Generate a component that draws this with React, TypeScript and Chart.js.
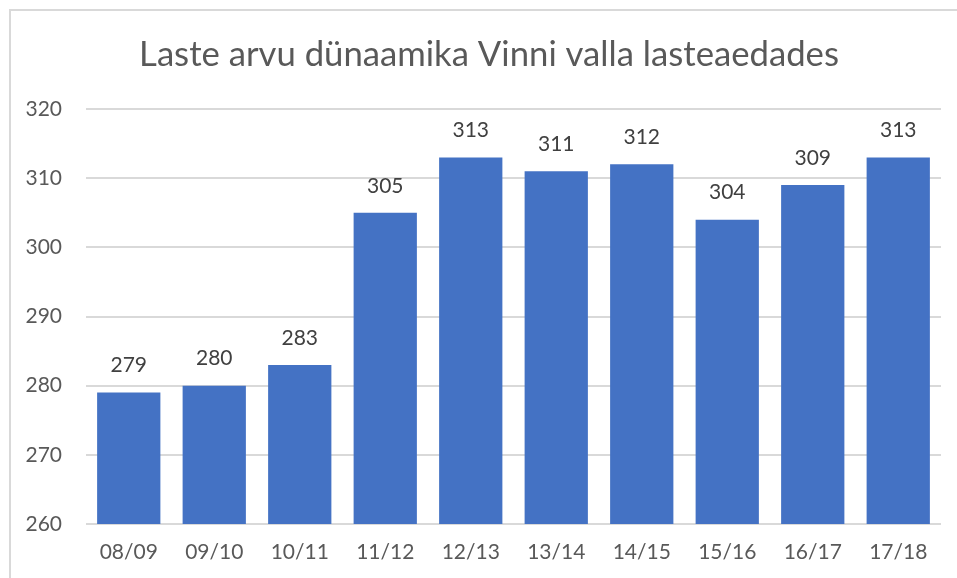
import React, { useEffect, useRef } from "react";
import { Chart, registerables } from "chart.js";

Chart.register(...registerables);

const categories = ["08/09", "09/10", "10/11", "11/12", "12/13", "13/14", "14/15", "15/16", "16/17", "17/18"];
const values = [279, 280, 283, 305, 313, 311, 312, 304, 309, 313];
const titleText = "Laste arvu dünaamika Vinni valla lasteaedades";
const yMin = 260;
const yMax = 320;
const yStep = 10;

const FONT = "Lato, 'Open Sans', sans-serif";

const framePlugin = {
  id: "frame",
  beforeDraw(chart: any) {
    const ctx = chart.ctx;
    ctx.save();
    ctx.fillStyle = "#ffffff";
    ctx.fillRect(0, 0, chart.width, chart.height);
    ctx.strokeStyle = "#d9d9d9";
    ctx.lineWidth = 2;
    ctx.strokeRect(10, 10, chart.width + 20, chart.height + 20);
    ctx.restore();
  },
  afterDraw(chart: any) {
    const ctx = chart.ctx;
    ctx.save();
    ctx.font = `34.7px ${FONT}`;
    ctx.fillStyle = "#595959";
    ctx.textAlign = "center";
    ctx.textBaseline = "middle";
    ctx.fillText(titleText, 489, 55);
    ctx.restore();
  },
};

const labelPlugin = {
  id: "barLabels",
  afterDatasetsDraw(chart: any) {
    const ctx = chart.ctx;
    const meta = chart.getDatasetMeta(0);
    ctx.save();
    ctx.font = `21px ${FONT}`;
    ctx.fillStyle = "#404040";
    ctx.textAlign = "center";
    ctx.textBaseline = "middle";
    meta.data.forEach((bar: any, i: number) => {
      ctx.fillText(String(values[i]), bar.x, bar.y - 27);
    });
    ctx.restore();
  },
};

export default function App() {
  const ref = useRef<HTMLCanvasElement>(null);
  useEffect(() => {
    if (!ref.current) return;
    const chart = new Chart(ref.current, {
      type: "bar",
      data: {
        labels: categories,
        datasets: [
          {
            data: values,
            backgroundColor: "#4472C4",
            barPercentage: 0.74,
            categoryPercentage: 1,
          },
        ],
      },
      options: {
        animation: false,
        responsive: false,
        layout: { padding: { left: 0, right: 16, top: 109, bottom: 0 } },
        plugins: {
          legend: { display: false },
          tooltip: { enabled: false },
          title: { display: false },
        },
        scales: {
          x: {
            grid: { display: false, drawTicks: false },
            border: { display: false },
            ticks: { color: "#595959", font: { family: FONT, size: 21 }, padding: 16 },
            afterFit(scale: any) {
              scale.height = 54;
            },
          },
          y: {
            min: yMin,
            max: yMax,
            grid: { color: "#d9d9d9", lineWidth: 2, drawTicks: false },
            border: { display: false },
            ticks: { stepSize: yStep, color: "#595959", font: { family: FONT, size: 21 }, padding: 24 },
            afterFit(scale: any) {
              scale.width = 86;
            },
          },
        },
      },
      plugins: [framePlugin, labelPlugin],
    });
    return () => chart.destroy();
  }, []);
  return (
    <div style={{ position: "fixed", left: 0, top: 0, width: 957, height: 578 }}>
      <canvas ref={ref} width={957} height={578} style={{ width: 957, height: 578 }} />
    </div>
  );
}
